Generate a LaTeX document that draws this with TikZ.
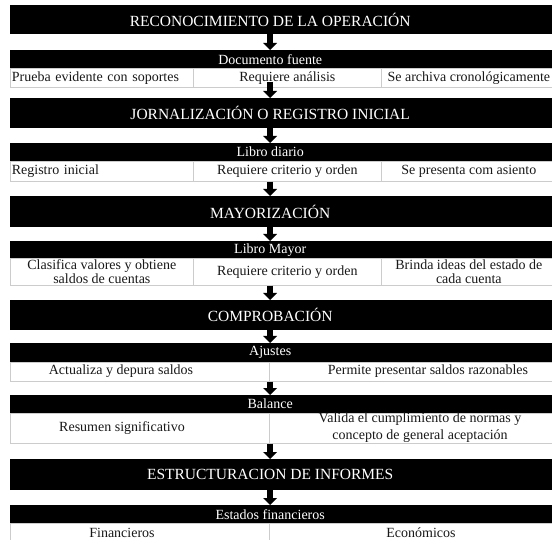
\documentclass[tikz,border=0pt]{standalone}
\usepackage{fontspec}
\setmainfont{Liberation Serif}
\usetikzlibrary{arrows.meta}
\tikzset{
  bar/.style={fill=black, text=white, inner sep=0pt, minimum width=520pt, anchor=north west},
  titlebar/.style={bar, font=\fontsize{15.5}{18}\selectfont},
  subbar/.style={bar, font=\fontsize{14}{16}\selectfont},
  cell/.style={draw=black!20, line width=0.7pt, fill=white, inner sep=0pt, anchor=north west,
    text=black!90, font=\fontsize{14}{14}\selectfont, align=center},
  leftcell/.style={cell, inner xsep=1.5pt, text width=180pt, align=left},
  celltext/.style={inner sep=0pt, text=black!90, font=\fontsize{14}{17}\selectfont, align=center},
  flow/.style={line width=5.5pt, -{Triangle[width=13.5pt,length=7pt]}},
}
\begin{document}
\begin{tikzpicture}[x=1pt,y=-1pt]
\useasboundingbox (0,0) rectangle (552,540);
\clip (0,0) rectangle (552,540);

% ---- stage 1
\node[titlebar, minimum height=29pt] (t1) at (10,5) {RECONOCIMIENTO DE LA OPERACIÓN};
\node[subbar, minimum height=18pt] (s1) at (10,50) {Documento fuente};
\node[leftcell, minimum height=19pt] (c1a) at (10,68) {Prueba evidente con soportes};
\node[cell, minimum width=188pt, minimum height=19pt] (c1b) at (193,68) {Requiere análisis};
\node[cell, minimum width=175pt, minimum height=19pt] (c1c) at (381,68) {Se archiva cronológicamente};

% ---- stage 2
\node[titlebar, minimum height=30pt] (t2) at (10,98) {JORNALIZACIÓN O REGISTRO INICIAL};
\node[subbar, minimum height=18pt] (s2) at (10,143) {Libro diario};
\node[leftcell, minimum height=20pt] (c2a) at (10,161) {Registro inicial};
\node[cell, minimum width=188pt, minimum height=20pt] (c2b) at (193,161) {Requiere criterio y orden};
\node[cell, minimum width=175pt, minimum height=20pt] (c2c) at (381,161) {Se presenta com asiento};

% ---- stage 3
\node[titlebar, minimum height=31pt] (t3) at (10,196) {MAYORIZACIÓN};
\node[subbar, minimum height=17pt] (s3) at (10,241) {Libro Mayor};
\node[cell, minimum width=183pt, minimum height=27pt] (c3a) at (10,258) {Clasifica valores y obtiene\\saldos de cuentas};
\node[cell, minimum width=188pt, minimum height=27pt] (c3b) at (193,258) {Requiere criterio y orden};
\node[cell, minimum width=175pt, minimum height=27pt] (c3c) at (381,258) {Brinda ideas del estado de\\cada cuenta};

% ---- stage 4
\node[titlebar, minimum height=30pt] (t4) at (10,300) {COMPROBACIÓN};
\node[subbar, minimum height=19pt] (s4) at (10,343) {Ajustes};
\node[cell, minimum width=259pt, minimum height=19pt] (c4a) at (10,362) {};
\node[cell, minimum width=287pt, minimum height=19pt] (c4b) at (269,362) {};
\node[celltext] (x4a) at (121,371.5) {Actualiza y depura saldos};
\node[celltext] (x4b) at (428,371.5) {Permite presentar saldos razonables};

\node[subbar, minimum height=18pt] (s5) at (10,395) {Balance};
\node[cell, minimum width=259pt, minimum height=30pt] (c5a) at (10,413) {};
\node[cell, minimum width=287pt, minimum height=30pt] (c5b) at (269,413) {};
\node[celltext] (x5a) at (122,428) {Resumen significativo};
\node[celltext] (x5b) at (420,428) {Valida el cumplimiento de normas y\\concepto de general aceptación};

% ---- stage 5
\node[titlebar, minimum height=31pt] (t5) at (10,459) {ESTRUCTURACION DE INFORMES};
\node[subbar, minimum height=18pt] (s6) at (10,505) {Estados financieros};
\node[cell, minimum width=259pt, minimum height=20pt] (c6a) at (10,523) {};
\node[cell, minimum width=287pt, minimum height=20pt] (c6b) at (269,523) {};
\node[celltext] (x6a) at (122,533) {Financieros};
\node[celltext] (x6b) at (421,533) {Económicos};

% black bars run on past the right edge
\foreach \n in {t1,t2,t3,t4,t5,s1,s2,s3,s4,s5,s6}
  \fill (\n.north east) rectangle ([xshift=40pt]\n.south east);

% ---- flow arrows
\draw[flow] (t1.south) -- (s1.north);
\draw[flow] ([yshift=6pt]t2.north |- c1b.south) -- (t2.north);
\draw[flow] (t2.south) -- (s2.north);
\draw[flow] (t3.north |- c2b.south) -- (t3.north);
\draw[flow] (t3.south) -- (s3.north);
\draw[flow] (t4.north |- c3b.south) -- (t4.north);
\draw[flow] (t4.south) -- (s4.north);
\draw[flow] (s5.north |- c4a.south) -- (s5.north);
\draw[flow] (t5.north |- c5a.south) -- (t5.north);
\draw[flow] (t5.south) -- (s6.north);
\end{tikzpicture}
\end{document}
